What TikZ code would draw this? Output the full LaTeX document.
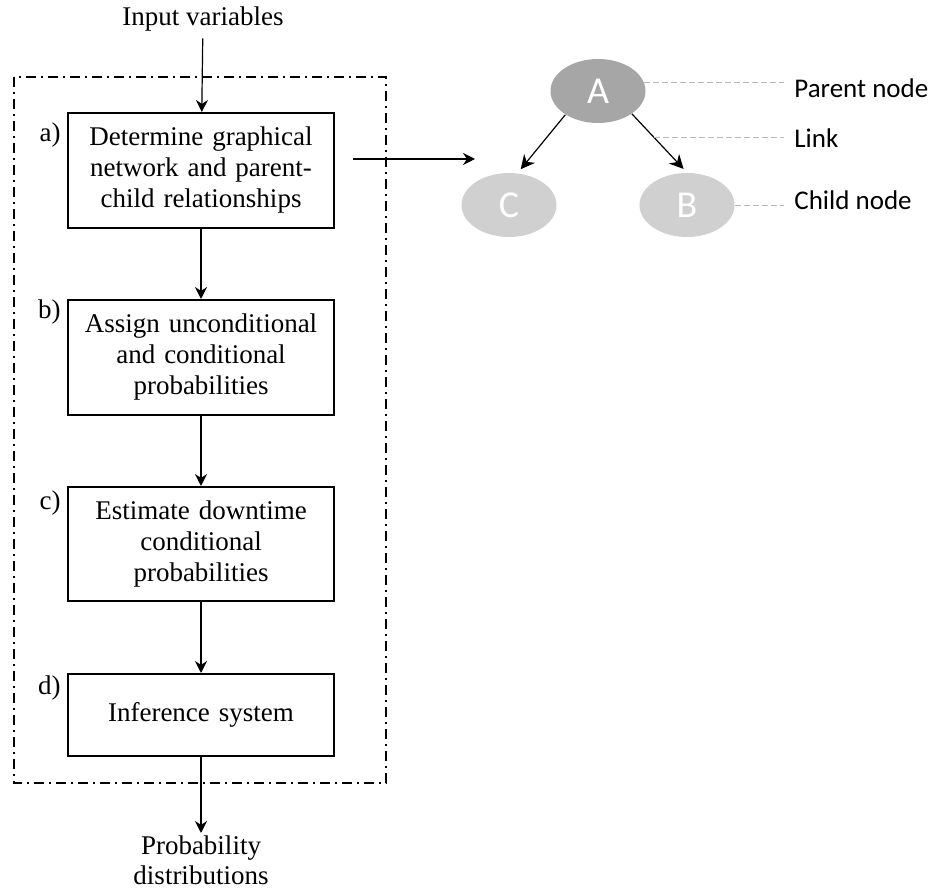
\documentclass[tikz,border=0pt]{standalone}
\usepackage{fontspec}
\setmainfont{Liberation Serif}
\newfontfamily\netfont{Carlito}
\usetikzlibrary{positioning,arrows.meta,shapes.geometric}
\definecolor{parentgray}{HTML}{A6A6A6}
\definecolor{childgray}{HTML}{D0D0D0}

\begin{document}
\begin{tikzpicture}[x=0.5pt, y=-0.5pt,
    >={Stealth[length=6pt,width=6pt]},
    flow/.style={->, line width=0.6pt},
    stepbox/.style={rectangle, draw=black, line width=1pt, minimum width=133pt, text width=125pt, align=center, font=\fontsize{13.5}{15.5}\selectfont},
    steplabel/.style={anchor=north east, inner sep=1pt, font=\fontsize{13.5}{15.5}\selectfont},
    plaintext/.style={align=center, font=\fontsize{13.5}{15.5}\selectfont},
    parentnode/.style={ellipse, fill=parentgray, minimum width=47.5pt, minimum height=32pt, text=white, font=\netfont\fontsize{19}{22}\selectfont},
    childnode/.style={parentnode, fill=childgray},
    netlabel/.style={anchor=base west, inner xsep=5pt, font=\netfont\fontsize{13.5}{16}\selectfont},
    link/.style={-{Stealth[length=7pt,width=7pt]}, line width=0.6pt, shorten >=2.5pt},
    guide/.style={draw=gray!55, dash pattern=on 3pt off 1.5pt, thin},
    ]
    \useasboundingbox (0,0) rectangle (933,892);

    %Frame
    \draw[line width=0.9pt, dash pattern=on 5pt off 2.5pt on 1pt off 2.5pt] (14,77) rectangle (386,783);

    %Nodes
    \node[plaintext]                    (input)  at (203,19)        {Input variables};
    \node[stepbox, minimum height=57.5pt] (boxa) at (201,170.5)     {Determine graphical\\network and parent-\\child relationships};
    \node[stepbox, minimum height=57.5pt] (boxb) [below=35pt of boxa] {Assign unconditional\\and conditional\\probabilities};
    \node[stepbox, minimum height=57pt]   (boxc) [below=35pt of boxb] {Estimate downtime\\conditional\\probabilities};
    \node[stepbox, minimum height=41pt]   (boxd) [below=35.5pt of boxc] {Inference system};
    \node[plaintext, inner sep=1pt, font=\fontsize{13.5}{15}\selectfont] (output) [below=38pt of boxd] {Probability\\distributions};

    \node[steplabel] (laba) at ([xshift=-2pt,yshift=-4pt]boxa.north west) {a)};
    \node[steplabel] (labb) at ([xshift=-2pt,yshift=1pt]boxb.north west) {b)};
    \node[steplabel] (labc) at ([xshift=-2pt,yshift=-1pt]boxc.north west) {c)};
    \node[steplabel] (labd) at ([xshift=-2pt,yshift=0pt]boxd.north west) {d)};

    \node[parentnode] (A) at (598,91)  {A};
    \node[childnode]  (C) at (509,205) {C};
    \node[childnode]  (B) at (687,205) {B};

    \node[netlabel] (lblparent) at (784,98)  {Parent node};
    \node[netlabel] (lbllink)   at (784,148) {Link};
    \node[netlabel] (lblchild)  at (784,210) {Child node};

    \coordinate (netout) at (353,159);
    \coordinate (netin)  at (475,159);

    %Lines
    \draw[flow] (input) -- (boxa);
    \draw[flow] (boxa) -- (boxb);
    \draw[flow] (boxb) -- (boxc);
    \draw[flow] (boxc) -- (boxd);
    \draw[flow] (boxd) -- (output);
    \draw[flow] (netout) -- (netin);

    \draw[link] (A.216) -- (C.75);
    \draw[link] (A.326) -- coordinate[pos=0.4] (linkpt) (B.north);

    \draw[guide] (A.10) -- (lblparent.west |- A.10);
    \draw[guide] (linkpt) -- (lbllink.west |- linkpt);
    \draw[guide] (B.east) -- (lblchild.west |- B.east);

    \end{tikzpicture}
\end{document}
